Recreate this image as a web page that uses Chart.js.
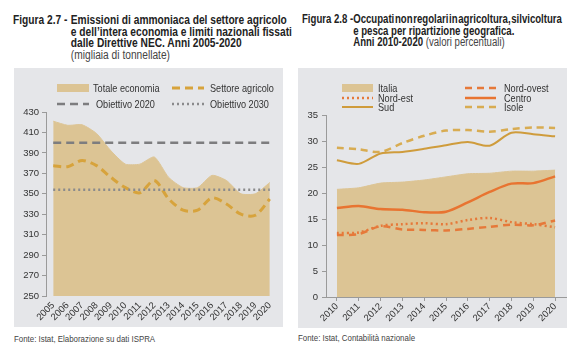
<!DOCTYPE html>
<html>
<head>
<meta charset="utf-8">
<script src="https://cdn.jsdelivr.net/npm/chart.js@4.4.1/dist/chart.umd.min.js"></script>
<style>
	body{margin:0;background:#fff;width:579px;height:353px;position:relative;overflow:hidden;
		font-family:"Liberation Sans",Arial,sans-serif;}
	.title{position:absolute;top:15px;font-size:12px;line-height:11.6px;color:#222;display:flex;
		white-space:nowrap;transform-origin:left top;}
	.title .num{font-weight:bold;}
	.title .txt{font-weight:bold;}
	.title .norm{font-weight:normal;color:#444;}
	.box{position:absolute;background:#e5e6e9;}
	.fonte{position:absolute;font-size:9.5px;color:#444;white-space:nowrap;transform:scaleX(0.83);transform-origin:left top;}
</style>
</head>
<body>

<div class="title" style="left:13px;transform:scaleX(0.85);">
	<span class="num" style="width:68px;">Figura 2.7 -</span>
	<span class="txt">Emissioni di ammoniaca del settore agricolo<br>e dell’intera economia e limiti nazionali fissati<br>dalle Direttive NEC. Anni 2005-2020<br><span class="norm">(migliaia di tonnellate)</span></span>
</div>
<div class="title" style="left:302px;top:14px;transform:scaleX(0.8);">
	<span class="num" style="width:64px;">Figura 2.8 -</span>
	<span class="txt"><span style="word-spacing:-2.5px;">Occupati non regolari in agricoltura, silvicoltura</span><br>e pesca per ripartizione geografica.<br>Anni 2010-2020 <span class="norm">(valori percentuali)</span></span>
</div>

<div class="box" style="left:14px;top:68px;width:269px;height:259px;"><canvas id="chartEmissioni"></canvas></div>
<div class="box" style="left:298px;top:68px;width:269px;height:260px;"><canvas id="chartOccupati"></canvas></div>

<div class="fonte" style="left:14px;top:333px;">Fonte: Istat, Elaborazione su dati ISPRA</div>
<div class="fonte" style="left:298px;top:332px;">Fonte: Istat, Contabilità nazionale</div>

<script>
// --- Figura 2.7 data
var anniEmissioni = ['2005','2006','2007','2008','2009','2010','2011','2012','2013','2014','2015','2016','2017','2018','2019','2020'];
var totaleEconomia = [421, 417, 417.5, 409, 392, 379, 379, 386, 366, 356, 356, 368, 363, 350, 350, 361];
var settoreAgricolo = [377.5, 376.5, 382.5, 377.5, 366, 356, 351, 363, 345, 334, 334, 346, 340, 330, 329, 345];
var obiettivo2020 = 400;
var obiettivo2030 = 354;

// --- Figura 2.8 data
var anniOccupati = ['2010','2011','2012','2013','2014','2015','2016','2017','2018','2019','2020'];
var italia    = [20.7, 21.0, 21.9, 22.1, 22.5, 23.1, 23.7, 23.8, 24.2, 24.2, 24.4];
var nordOvest = [11.9, 12.1, 13.6, 13.0, 12.9, 12.8, 13.1, 13.5, 13.9, 13.8, 14.7];
var nordEst   = [12.3, 12.4, 13.7, 14.0, 14.2, 14.0, 14.8, 15.2, 14.4, 14.0, 13.4];
var centro    = [17.1, 17.5, 16.9, 16.8, 16.3, 16.4, 18.2, 20.2, 21.8, 21.9, 23.2];
var sud       = [26.3, 25.6, 27.6, 27.9, 28.5, 29.2, 29.8, 29.1, 31.6, 31.3, 30.9];
var isole     = [28.7, 28.4, 27.9, 29.6, 31.0, 32.0, 32.1, 31.8, 32.3, 32.6, 32.5];

var fontFamily = '"Liberation Sans", Arial, sans-serif';

// legend drawn in two columns, like the original
var gridLegend = {
	id: 'gridLegend',
	afterDraw: function(chart, args, opts){
		var ctx = chart.ctx;
		opts.items.forEach(function(it){
			var ds = chart.data.datasets[it.index];
			ctx.save();
			if(ds.fill){
				ctx.fillStyle = ds.backgroundColor;
				ctx.fillRect(it.x, it.y - 4, opts.swatch, 8);
			}else{
				ctx.strokeStyle = ds.borderColor;
				ctx.lineWidth = ds.borderWidth;
				ctx.setLineDash(ds.borderDash || []);
				ctx.beginPath();
				ctx.moveTo(it.x, it.y);
				ctx.lineTo(it.x + opts.swatch, it.y);
				ctx.stroke();
			}
			ctx.setLineDash([]);
			// narrow text: squeeze horizontally
			ctx.translate(it.x + opts.swatch + it.gap, it.y + 0.5);
			ctx.scale(0.83, 1);
			ctx.fillStyle = '#333';
			ctx.font = '11px ' + fontFamily;
			ctx.textBaseline = 'middle';
			ctx.fillText(ds.label, 0, 0);
			ctx.restore();
		});
	}
};

function axisY(min, max, step, width, pad){
	return {
		min: min, max: max,
		afterFit: function(scale){ scale.width = width; },
		border: {display: true, color: '#9a9a9a'},
		grid: {drawOnChartArea: false, tickLength: 4, color: '#9a9a9a'},
		ticks: {stepSize: step, padding: pad, color: '#333', font: {family: fontFamily, size: 9.5}}
	};
}

function axisX(height, showBorder){
	return {
		offset: true,
		afterFit: function(scale){ scale.height = height; },
		border: {display: showBorder, color: '#9a9a9a'},
		grid: {drawOnChartArea: false, display: showBorder, tickLength: 4, color: '#9a9a9a'},
		ticks: {minRotation: 45, maxRotation: 45, autoSkip: false, padding: 0, color: '#333', font: {family: fontFamily, size: 9.5}}
	};
}

function emissioniChart(){
	var first = anniEmissioni[0], last = anniEmissioni[anniEmissioni.length - 1];
	new Chart(document.getElementById('chartEmissioni'), {
		type: 'line',
		data: {
			labels: anniEmissioni,
			datasets: [
				{label: 'Totale economia', data: totaleEconomia, fill: 'start', order: 2,
					backgroundColor: '#dcc494', borderColor: '#dcc494', borderWidth: 1, tension: 0.2},
				{label: 'Settore agricolo', data: settoreAgricolo, fill: false, order: 1,
					borderColor: '#d7a33c', borderWidth: 3, borderDash: [8, 5], tension: 0.3},
				{label: 'Obiettivo 2020', data: [{x: first, y: obiettivo2020}, {x: last, y: obiettivo2020}], fill: false, order: 0,
					borderColor: '#7d7d7f', borderWidth: 2.5, borderDash: [8, 5]},
				{label: 'Obiettivo 2030', data: [{x: first, y: obiettivo2030}, {x: last, y: obiettivo2030}], fill: false, order: 0,
					borderColor: '#8a8a8c', borderWidth: 2.5, borderDash: [2, 3]}
			]
		},
		options: {
			responsive: false, animation: false,
			layout: {padding: {top: 44, right: 6, bottom: 0, left: 0}},
			elements: {point: {radius: 0}},
			plugins: {
				legend: {display: false}, tooltip: {enabled: false},
				gridLegend: {swatch: 32, items: [
					{index: 0, x: 43, y: 20, gap: 4},
					{index: 1, x: 158, y: 20, gap: 6},
					{index: 2, x: 43, y: 36, gap: 7},
					{index: 3, x: 158, y: 36, gap: 6}
				]}
			},
			scales: {x: axisX(31, false), y: axisY(250, 430, 20, 32, 3)}
		},
		plugins: [gridLegend]
	});
}

function occupatiChart(){
	new Chart(document.getElementById('chartOccupati'), {
		type: 'line',
		data: {
			labels: anniOccupati,
			datasets: [
				{label: 'Italia', data: italia, fill: 'start', order: 2,
					backgroundColor: '#dcc494', borderColor: '#dcc494', borderWidth: 1, tension: 0.2},
				{label: 'Nord-ovest', data: nordOvest, fill: false, order: 1,
					borderColor: '#e6793a', borderWidth: 2.5, borderDash: [7, 5], tension: 0.3},
				{label: 'Nord-est', data: nordEst, fill: false, order: 1,
					borderColor: '#e6793a', borderWidth: 2.5, borderDash: [2, 3], tension: 0.3},
				{label: 'Centro', data: centro, fill: false, order: 1,
					borderColor: '#e87431', borderWidth: 2.5, tension: 0.3},
				{label: 'Sud', data: sud, fill: false, order: 1,
					borderColor: '#cf9c3c', borderWidth: 2, tension: 0.3},
				{label: 'Isole', data: isole, fill: false, order: 1,
					borderColor: '#d8ac52', borderWidth: 2.5, borderDash: [7, 5], tension: 0.3}
			]
		},
		options: {
			responsive: false, animation: false,
			layout: {padding: {top: 47, right: 1, bottom: 0, left: 0}},
			elements: {point: {radius: 0}},
			plugins: {
				legend: {display: false}, tooltip: {enabled: false},
				gridLegend: {swatch: 31, items: [
					{index: 0, x: 44, y: 20, gap: 5},
					{index: 2, x: 44, y: 30, gap: 5},
					{index: 4, x: 44, y: 39, gap: 5},
					{index: 1, x: 167, y: 20, gap: 8},
					{index: 3, x: 167, y: 30, gap: 8},
					{index: 5, x: 167, y: 39, gap: 8}
				]}
			},
			scales: {x: axisX(31, true), y: axisY(0, 35, 5, 28, 4)}
		},
		plugins: [gridLegend]
	});
}

document.getElementById('chartEmissioni').width = 269;
document.getElementById('chartEmissioni').height = 259;
document.getElementById('chartOccupati').width = 269;
document.getElementById('chartOccupati').height = 260;
emissioniChart();
occupatiChart();
</script>
</body>
</html>
